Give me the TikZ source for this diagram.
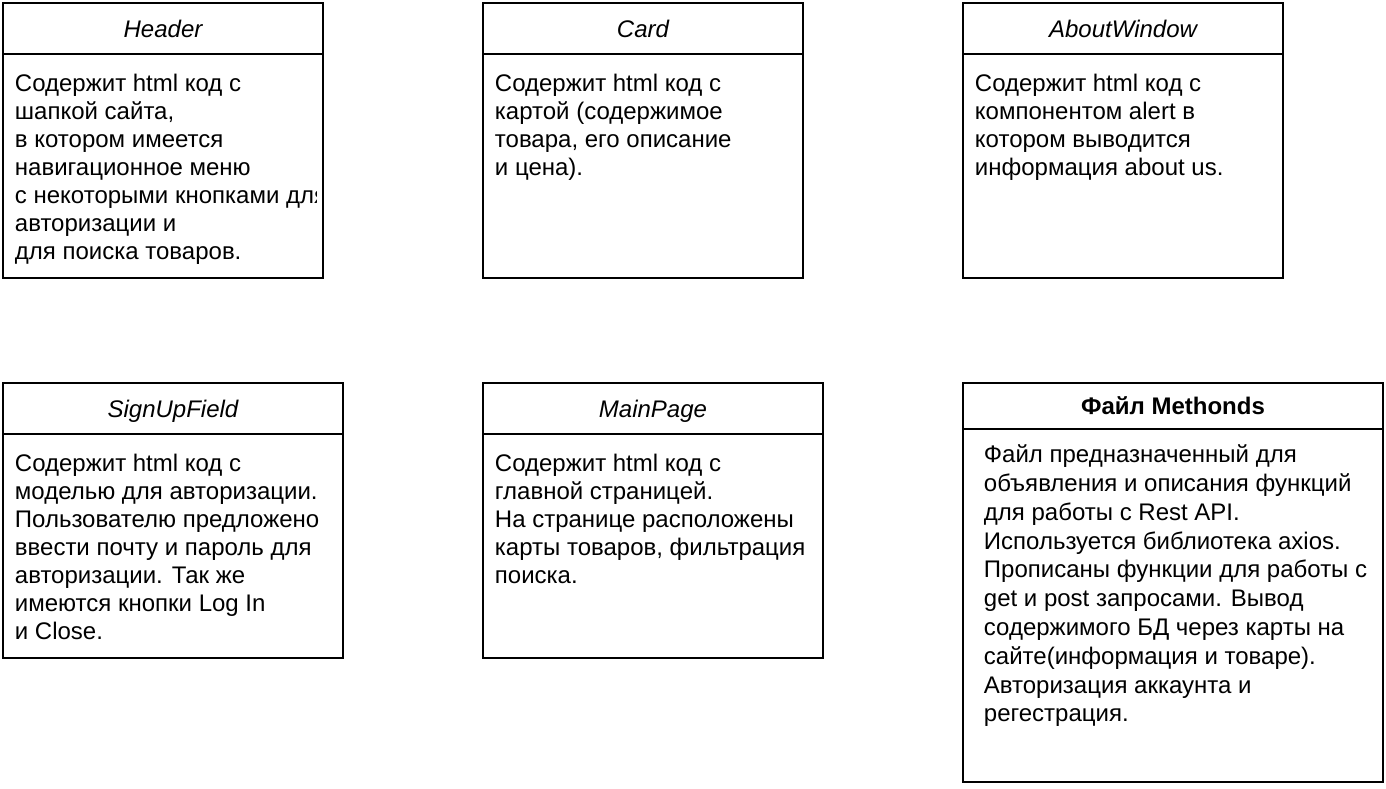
\documentclass[tikz,border=0pt]{standalone}
\usepackage{fontspec}
\setmainfont{Liberation Sans}
\usetikzlibrary{positioning}

\begin{document}
\begin{tikzpicture}[x=0.75pt, y=-0.75pt, line width=1.4pt,
  titlebox/.style={draw, outer sep=0pt, inner sep=0pt, minimum height=38.25pt,
    text height=12.9pt, text depth=0pt, font=\fontsize{18}{21}\selectfont\itshape},
  bodybox/.style={draw, outer sep=0pt, inner sep=0pt, minimum height=168pt},
  bodytext/.style={anchor=north west, inner sep=0pt, align=left,
    font=\fontsize{18}{21}\selectfont}]
  \useasboundingbox (0,0) rectangle (1386,789);

  % first row
  \node[titlebox, minimum width=240pt] (header) at (163,28.5) {Header};
  \node[bodybox, minimum width=240pt, below=0pt of header] (headerbody) {};
  \begin{scope}
    \clip (headerbody.north west) rectangle ([xshift=-5.25pt]headerbody.south east);
    \node[bodytext] (headertext) at (14,73) {Содержит html код с\\шапкой сайта,\\в котором имеется\\навигационное меню\\с некоторыми кнопками для\\авторизации и\\для поиска товаров.};
  \end{scope}

  \node[titlebox, minimum width=240pt] (card) at (643,28.5) {Card};
  \node[bodybox, minimum width=240pt, below=0pt of card] (cardbody) {};
  \node[bodytext] (cardtext) at (494,73) {Содержит html код с\\картой (содержимое\\товара, его описание\\и цена).};

  \node[titlebox, minimum width=240pt] (about) at (1123,28.5) {AboutWindow};
  \node[bodybox, minimum width=240pt, below=0pt of about] (aboutbody) {};
  \node[bodytext] (abouttext) at (974,73) {Содержит html код с\\компонентом alert в\\котором выводится\\информация about us.};

  % second row
  \node[titlebox, minimum width=255pt] (signup) at (173,408.5) {SignUpField};
  \node[bodybox, minimum width=255pt, below=0pt of signup] (signupbody) {};
  \node[bodytext] (signuptext) at (14,453) {Содержит html код с\\моделью для авторизации.\\Пользователю предложено\\ввести почту и пароль для\\авторизации. Так же\\имеются кнопки Log In\\и Close.};

  \node[titlebox, minimum width=255pt] (mainpage) at (653,408.5) {MainPage};
  \node[bodybox, minimum width=255pt, below=0pt of mainpage] (mainbody) {};
  \node[bodytext] (maintext) at (494,453) {Содержит html код с\\главной страницей.\\На странице расположены\\карты товаров, фильтрация\\поиска.};

  \node[titlebox, minimum width=315pt, minimum height=34.5pt, font=\fontsize{18}{21}\selectfont\bfseries] (methods) at (1173,406) {Файл Methonds};
  \node[bodybox, minimum width=315pt, minimum height=264.75pt, below=0pt of methods] (methodsbody) {};
  \node[bodytext, font=\fontsize{18}{21.6}\selectfont] (methodstext) at (983,444) {Файл предназначенный для\\объявления и описания функций\\для работы с Rest API.\\Используется библиотека axios.\\Прописаны функции для работы с\\get и post запросами. Вывод\\содержимого БД через карты на\\сайте(информация и товаре).\\Авторизация аккаунта и\\регестрация.};
\end{tikzpicture}
\end{document}
